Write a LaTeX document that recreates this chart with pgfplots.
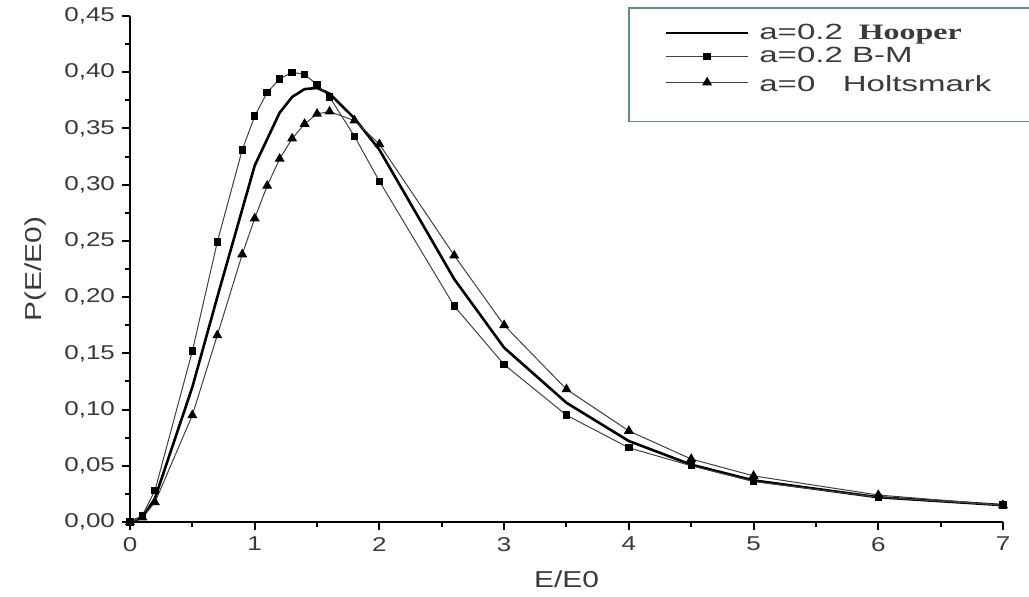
\documentclass[border=0pt]{standalone}
\usepackage{pgfplots}
\pgfplotsset{compat=1.18}
\usepackage{fontspec}
\setmainfont{Liberation Sans}[FakeStretch=1.3]
\newfontfamily\legfont{Liberation Sans}[FakeStretch=1.5]
\newfontfamily\timesfont{Liberation Serif}[FakeStretch=1.45]
\definecolor{txt}{HTML}{3A3A3A}
\definecolor{lgb}{HTML}{5E8C8A}
\begin{document}
\begin{tikzpicture}
\begin{axis}[
  at={(0,0)}, anchor=south west,
  scale only axis, width=436.5pt, height=253pt,
  xmin=0, xmax=7, ymin=0, ymax=0.45,
  axis x line=bottom, axis y line=left,
  axis line style={-, line width=1pt},
  tick align=outside,
  major tick length=4pt, minor tick length=2.5pt,
  every tick/.style={black, line width=1pt},
  xtick={0,1,...,7}, minor xtick={0.5,1.5,...,6.5},
  ytick={0,0.05,...,0.45}, minor ytick={0.025,0.075,...,0.425},
  /pgf/number format/assume math mode=true,
  yticklabel style={/pgf/number format/.cd, fixed, fixed zerofill, precision=2, use comma},
  ticklabel style={font=\fontsize{10}{12}\selectfont, text=txt},
  xlabel={E/E0}, ylabel={P(E/E0)},
  label style={font=\fontsize{11.5}{13}\selectfont, text=txt},
  xlabel style={yshift=-3pt},
  ylabel style={yshift=2pt},
  clip=false,
  legend cell align=left,
  legend style={at={(249pt,257.5pt)}, anchor=north west, draw=lgb, line width=0.8pt,
    font=\legfont\fontsize{11}{12}\selectfont, text=txt, inner xsep=18pt, inner ysep=6pt,
    row sep=-1.5pt},
  legend image code/.code={%
    \draw[mark repeat=2,mark phase=2,#1] plot coordinates {(0pt,0pt) (20.5pt,0pt) (41pt,0pt)};},
]
\addplot[black, line width=1.3pt] coordinates {
(0,0) (0.1,0.004) (0.2,0.021) (0.5,0.120) (0.7,0.200) (1.0,0.317) (1.2,0.364)
(1.3,0.378) (1.4,0.385) (1.5,0.386) (1.6,0.381) (1.8,0.359) (2.0,0.331)
(2.6,0.216) (3.0,0.155) (3.5,0.106) (4.0,0.072) (4.5,0.051) (5.0,0.037)
(6.0,0.022) (7.0,0.015)};
\addlegendentry{\makebox[150pt][l]{\hspace{3pt}a=0.2\hspace{8pt}{\timesfont\bfseries Hooper}}}
\addplot[black!75, line width=0.5pt, mark=square*, mark size=1.6pt, mark options={black, solid}] coordinates {
(0,0) (0.1,0.006) (0.2,0.028) (0.5,0.152) (0.7,0.249) (0.9,0.331) (1.0,0.361)
(1.1,0.382) (1.2,0.394) (1.3,0.400) (1.4,0.398) (1.5,0.389) (1.6,0.378)
(1.8,0.343) (2.0,0.303) (2.6,0.192) (3.0,0.140) (3.5,0.095) (4.0,0.066)
(4.5,0.050) (5.0,0.036) (6.0,0.022) (7.0,0.015)};
\addlegendentry{\hspace{3pt}a=0.2 B-M}
\addplot[black!75, line width=0.5pt, mark=triangle*, mark size=2.4pt, mark options={black, solid}] coordinates {
(0,0) (0.1,0.004) (0.2,0.0175) (0.5,0.095) (0.7,0.166) (0.9,0.238) (1.0,0.270)
(1.1,0.299) (1.2,0.323) (1.3,0.341) (1.4,0.354) (1.5,0.363) (1.6,0.365)
(1.8,0.357) (2.0,0.336) (2.6,0.237) (3.0,0.175) (3.5,0.118) (4.0,0.081)
(4.5,0.056) (5.0,0.041) (6.0,0.024) (7.0,0.015)};
\addlegendentry{\hspace{3pt}\rule{0pt}{10.5pt}a=0\ \ \ Holtsmark}
\addlegendimage{empty legend}
\addlegendentry{\rule{0pt}{1.5pt}}
\end{axis}
\pgfresetboundingbox
\path[use as bounding box] (-65pt,-37pt) rectangle (449.5pt,261pt);
\end{tikzpicture}
\end{document}
